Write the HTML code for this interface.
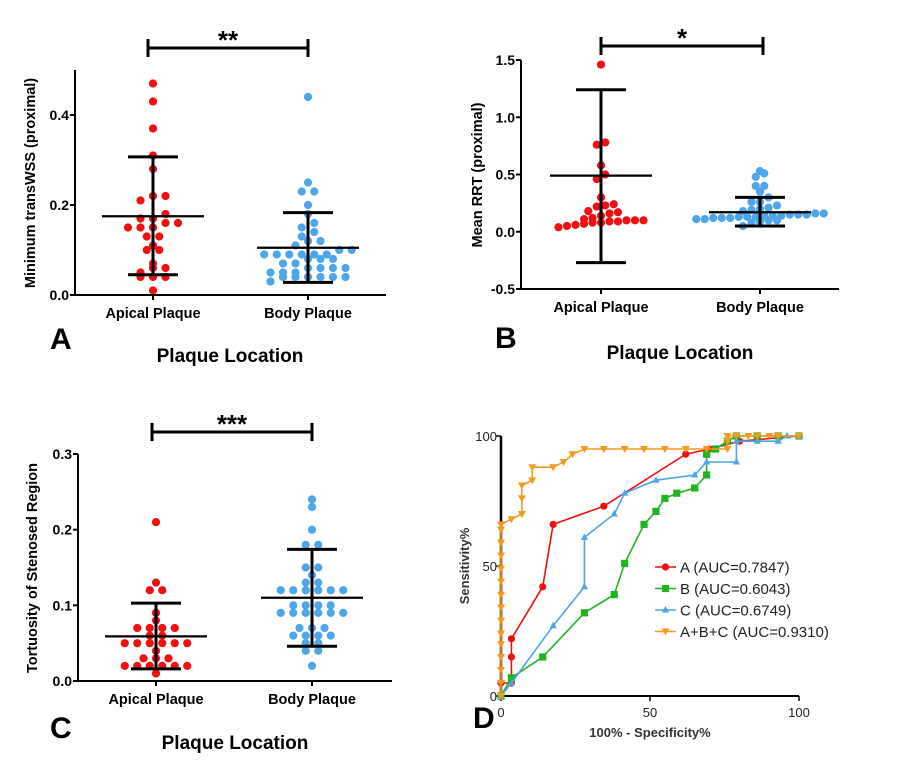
<!DOCTYPE html>
<html><head><meta charset="utf-8"><style>
body{margin:0;background:#fff}
svg{display:block;font-family:"Liberation Sans",Arial,sans-serif}
</style></head><body>
<svg id="fig" width="900" height="768" viewBox="0 0 900 768"></svg>
<script>
// Panel A data
const aApical=[0.47,0.43,0.37,0.31,0.28,0.22,0.21,0.22,0.18,0.17,0.16,0.15,0.15,0.15,0.16,0.17,0.13,0.13,0.11,0.10,0.10,0.07,0.06,0.05,0.06,0.04,0.04,0.04,0.01];
const aBody=[0.44,0.25,0.23,0.23,0.20,0.18,0.16,0.15,0.14,0.13,0.12,0.12,0.11,0.10,0.10,0.09,0.09,0.09,0.09,0.09,0.09,0.08,0.08,0.08,0.07,0.07,0.06,0.06,0.06,0.06,0.05,0.05,0.05,0.04,0.04,0.04,0.04,0.04,0.04,0.03];
const aStats=[[0.175,0.045,0.307],[0.105,0.028,0.183]];
const aTicks=[0,0.2,0.4];
// Panel B data
const bApical=[1.46,0.78,0.76,0.58,0.50,0.46,0.30,0.24,0.23,0.22,0.18,0.17,0.16,0.14,0.12,0.11,0.10,0.10,0.10,0.09,0.09,0.08,0.08,0.07,0.06,0.05,0.04];
const bBody=[0.53,0.51,0.48,0.40,0.40,0.35,0.30,0.26,0.26,0.23,0.21,0.20,0.19,0.18,0.16,0.16,0.15,0.15,0.15,0.14,0.14,0.14,0.13,0.13,0.13,0.12,0.12,0.12,0.11,0.11,0.10,0.10,0.09,0.08,0.05];
const bStats=[[0.49,-0.27,1.24],[0.17,0.05,0.30]];
const bTicks=[-0.5,0.0,0.5,1.0,1.5];
// Panel C data
const cApical=[0.21,0.13,0.12,0.12,0.09,0.08,0.07,0.07,0.07,0.07,0.06,0.06,0.05,0.05,0.05,0.05,0.05,0.05,0.04,0.03,0.03,0.03,0.02,0.02,0.02,0.02,0.02,0.02,0.01];
const cBody=[0.24,0.23,0.20,0.18,0.18,0.15,0.15,0.14,0.13,0.13,0.12,0.12,0.12,0.12,0.12,0.12,0.10,0.10,0.10,0.10,0.09,0.09,0.09,0.09,0.09,0.09,0.07,0.07,0.07,0.06,0.06,0.06,0.06,0.05,0.05,0.04,0.04,0.02];
const cStats=[[0.059,0.016,0.103],[0.11,0.046,0.174]];
const cTicks=[0.0,0.1,0.2,0.3];
// Panel D ROC data [x=100-spec, y=sens]
const rocAx=[0,0,3.5,3.5,3.5,14,17.5,34.5,62,70,80,100];
const rocAy=[0,5,5,15,22,42,66,73,93,95,98,100];
const rocBx=[0,3.5,14,28,38,41.5,48,52,55,59,65,69,69,72,76,79,86,93,100];
const rocBy=[0,7,15,32,39,51,66,71,76,78,80,85,93,95,98,100,100,100,100];
const rocCx=[0,3.5,17.5,28,28,38,41.5,52,65,69,79,79,86,93,96,100];
const rocCy=[0,5,27,42,61,70,78,83,85,90,90,98,98,98,100,100];
const rocDx=[0,0,0,0,0,0,0,0,0,0,0,0,0,0,0,3.5,7,7,7,10.5,10.5,17.5,21,24,28,34.5,41.5,48,55,62,69,76,76,76,79,83,86,90,93,100];
const rocDy=[0,5,10,15,20,24,29,34,39,44,49,54,59,64,66,68,70,76,81,83,88,88,90,93,95,95,95,95,95,95,95,95,98,100,100,100,100,100,100,100];
const dTicks=[0,50,100];
const legendLabels=["A (AUC=0.7847)","B (AUC=0.6043)","C (AUC=0.6749)","A+B+C (AUC=0.9310)"];

const NS="http://www.w3.org/2000/svg";
const svg=document.getElementById('fig');
function mk(tag,attrs,parent){const e=document.createElementNS(NS,tag);for(const k in attrs)e.setAttribute(k,attrs[k]);(parent||svg).appendChild(e);return e;}
const RED="#f01010",BLUE="#4da6ea",GREEN="#1fb51f",ORANGE="#f59a1e";

function swarm(vals,cx,ys,binH,sp){
  const bins={};const out=[];
  vals.forEach((v,i)=>{const y=ys(v);const b=Math.round(y/binH);(bins[b]=bins[b]||[]).push(i);});
  Object.keys(bins).forEach(b=>{const idx=bins[b].sort((p,q)=>vals[p]-vals[q]);const n=idx.length;
    idx.forEach((i,j)=>{out[i]=[cx+(j-(n-1)/2)*sp,ys(vals[i])];});});
  return out;
}

function dotPanel(o){
  const g=mk('g',{});
  const ys=v=>o.y0+(v-o.vmin)/(o.vmax-o.vmin)*(o.y1-o.y0);
  mk('line',{x1:o.ax,y1:o.top,x2:o.ax,y2:o.y0,stroke:'#000','stroke-width':2});
  mk('line',{x1:o.ax,y1:o.y0,x2:o.axEnd,y2:o.y0,stroke:'#000','stroke-width':2});
  o.ticks.forEach(t=>{const y=ys(t);
    const l=mk('line',{x1:o.ax-5,y1:y,x2:o.ax,y2:y,stroke:'#000','stroke-width':2},g);
    const tx=mk('text',{x:o.ax-6,y:y+5,'text-anchor':'end','font-size':14,'font-weight':'bold'},g);tx.textContent=t.toFixed(1);
    });
  const cats=[o.c1,o.c2],names=["Apical Plaque","Body Plaque"],sets=[o.d1,o.d2],cols=[RED,BLUE];
  cats.forEach((cx,k)=>{
    mk('line',{x1:cx,y1:o.y0,x2:cx,y2:o.y0+5,stroke:'#000','stroke-width':2},g);
    const tx=mk('text',{x:cx,y:o.y0+23,'text-anchor':'middle','font-size':14.5,'font-weight':'bold'},g);tx.textContent=names[k];
    
    swarm(sets[k],cx,ys,o.binH,o.sp).forEach(p=>{const c=mk('circle',{cx:p[0],cy:p[1],r:4.1,fill:cols[k]},g);
      });
  });
  cats.forEach((cx,k)=>{const s=o.stats[k];
    const e=mk('g',{},g);
    mk('line',{x1:cx-51,y1:ys(s[0]),x2:cx+51,y2:ys(s[0]),stroke:'#000','stroke-width':2.2},e);
    mk('line',{x1:cx,y1:ys(s[1]),x2:cx,y2:ys(s[2]),stroke:'#000','stroke-width':3},e);
    mk('line',{x1:cx-25,y1:ys(s[1]),x2:cx+25,y2:ys(s[1]),stroke:'#000','stroke-width':3},e);
    mk('line',{x1:cx-25,y1:ys(s[2]),x2:cx+25,y2:ys(s[2]),stroke:'#000','stroke-width':3},e);
  });
  const sb=mk('g',{},g);
  mk('line',{x1:o.s1,y1:o.sy,x2:o.s2,y2:o.sy,stroke:'#000','stroke-width':3},sb);
  mk('line',{x1:o.s1,y1:o.sy-9,x2:o.s1,y2:o.sy+9,stroke:'#000','stroke-width':3},sb);
  mk('line',{x1:o.s2,y1:o.sy-9,x2:o.s2,y2:o.sy+9,stroke:'#000','stroke-width':3},sb);
  const st=mk('text',{x:(o.s1+o.s2)/2,y:o.sy+1,'text-anchor':'middle','font-size':26,'font-weight':'bold'},sb);st.textContent=o.star;
  const yt=mk('text',{x:0,y:0,transform:`translate(${o.ytx},${o.yty}) rotate(-90)`,'text-anchor':'middle','font-size':14.5,'font-weight':'bold'},g);yt.textContent=o.ytitle;
  
  const xt=mk('text',{x:o.xtx,y:o.xty,'text-anchor':'middle','font-size':19,'font-weight':'bold'},g);xt.textContent="Plaque Location";
  
  const pl=mk('text',{x:o.lx,y:o.ly,'font-size':30,'font-weight':'bold'},g);pl.textContent=o.letter;
  
}
dotPanel({name:'panel-a',ax:75,axEnd:386,top:70,y0:295,y1:115,vmin:0,vmax:0.4,ticks:aTicks,c1:153,c2:308,d1:aApical,d2:aBody,stats:aStats,s1:148,s2:308,sy:48,star:'**',ytitle:'Minimum transWSS (proximal)',ytx:35,yty:183,xtx:230,xty:362,lx:50,ly:349,letter:'A',binH:9,sp:12.5});
dotPanel({name:'panel-b',ax:521,axEnd:839,top:60,y0:289,y1:60,vmin:-0.5,vmax:1.5,ticks:bTicks,c1:601,c2:760,d1:bApical,d2:bBody,stats:bStats,s1:601,s2:763,sy:46,star:'*',ytitle:'Mean RRT (proximal)',ytx:482,yty:175,xtx:680,xty:359,lx:495,ly:348,letter:'B',binH:8,sp:8.5});
dotPanel({name:'panel-c',ax:78,axEnd:392,top:454,y0:681,y1:454,vmin:0,vmax:0.3,ticks:cTicks,c1:156,c2:312,d1:cApical,d2:cBody,stats:cStats,s1:152,s2:312,sy:432,star:'***',ytitle:'Tortuosity of Stenosed Region',ytx:37,yty:568,xtx:235,xty:749,lx:50,ly:738,letter:'C',binH:7.5,sp:12.5});

// Panel D
(function(){
  const g=mk('g',{});
  const X=v=>501+v/100*298, Y=v=>696-v/100*260;
  mk('line',{x1:501,y1:436,x2:501,y2:696,stroke:'#000','stroke-width':2.5},g);
  mk('line',{x1:501,y1:696,x2:799,y2:696,stroke:'#000','stroke-width':2},g);
  dTicks.forEach(t=>{
    mk('line',{x1:X(t),y1:696,x2:X(t),y2:701,stroke:'#000','stroke-width':1.5},g);
    mk('line',{x1:496,y1:Y(t),x2:501,y2:Y(t),stroke:'#000','stroke-width':1.5},g);
    const a=mk('text',{x:X(t),y:717,'text-anchor':'middle','font-size':13,fill:'#222'},g);a.textContent=t;
    
    const b=mk('text',{x:497,y:Y(t)+5,'text-anchor':'end','font-size':13,fill:'#222'},g);b.textContent=t;
    
  });
  const series=[[rocAx,rocAy,RED,'circle'],[rocBx,rocBy,GREEN,'square'],[rocCx,rocCy,BLUE,'tri'],[rocDx,rocDy,ORANGE,'dtri']];
  function marker(shape,x,y,c,p){let e;
    if(shape==='circle')e=mk('circle',{cx:x,cy:y,r:3.6,fill:c},p);
    else if(shape==='square')e=mk('rect',{x:x-3.6,y:y-3.6,width:7.2,height:7.2,fill:c},p);
    else if(shape==='tri')e=mk('polygon',{points:`${x},${y-4} ${x-3.6},${y+2.5} ${x+3.6},${y+2.5}`,fill:c},p);
    else e=mk('polygon',{points:`${x},${y+4} ${x-4},${y-3} ${x+4},${y-3}`,fill:c},p);
    return e;}
  const names=['roc-a','roc-b','roc-c','roc-abc'];
  series.forEach((s,k)=>{
    const sg=mk('g',{},g);
    const pts=s[0].map((x,i)=>X(x)+','+Y(s[1][i])).join(' ');
    mk('polyline',{points:pts,fill:'none',stroke:s[2],'stroke-width':1.6},sg);
    s[0].forEach((x,i)=>{const m=marker(s[3],X(x),Y(s[1][i]),s[2],sg);});
  });
  const lg=mk('g',{},g);
  legendLabels.forEach((lab,k)=>{const y=567+k*21.5;
    const e=mk('g',{},lg);
    mk('line',{x1:655,y1:y,x2:676,y2:y,stroke:series[k][2],'stroke-width':1.6},e);
    marker(series[k][3],665.5,y,series[k][2],e);
    const t=mk('text',{x:680,y:y+5.5,'font-size':15,fill:'#222'},e);t.textContent=lab;});
  const yt=mk('text',{x:0,y:0,transform:'translate(469,566) rotate(-90)','text-anchor':'middle','font-size':13,'font-weight':'bold',fill:'#333'},g);yt.textContent='Sensitivity%';
  
  const xt=mk('text',{x:650,y:737,'text-anchor':'middle','font-size':13,'font-weight':'bold',fill:'#333'},g);xt.textContent='100% - Specificity%';
  
  const pl=mk('text',{x:473,y:728,'font-size':30,'font-weight':'bold'},g);pl.textContent='D';
  
})();
</script>
</body></html>
